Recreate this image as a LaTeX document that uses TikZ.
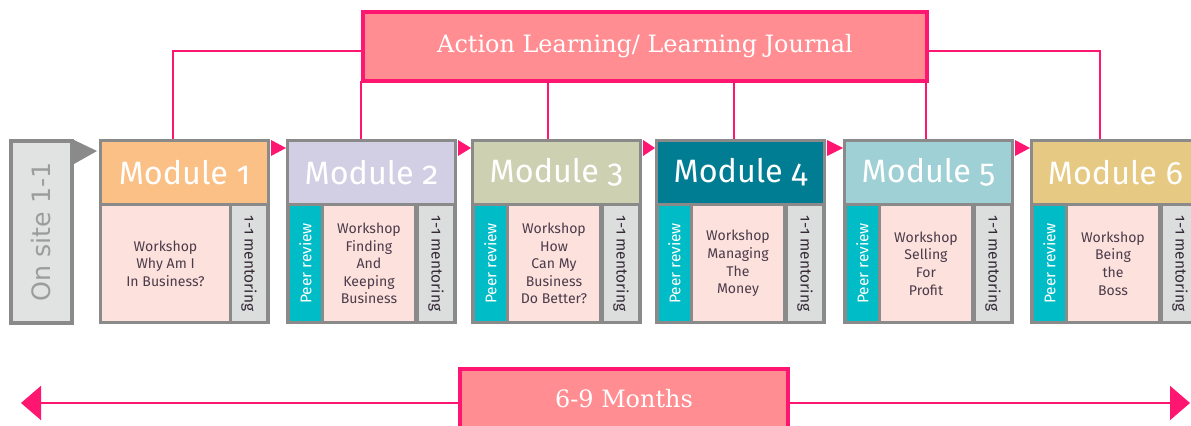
\documentclass[tikz,border=0pt]{standalone}
\usepackage{fontspec}
\usepackage{graphicx}
\setmainfont{Fira Sans}[Numbers=OldStyle]
\newfontfamily\slabfont{DejaVu Serif}
\newfontfamily\plainsans{DejaVu Sans}
\usetikzlibrary{positioning, backgrounds, calc, arrows.meta}

\definecolor{linkpink}{HTML}{FF1670}
\definecolor{boxpink}{HTML}{FF8D92}
\definecolor{framegray}{HTML}{8A8A8A}
\definecolor{shoppink}{HTML}{FDE1DC}
\definecolor{peerteal}{HTML}{00BCC7}
\definecolor{mentorgray}{HTML}{DCDEDE}
\definecolor{onsitegray}{HTML}{E1E2E2}
\definecolor{onsitetext}{HTML}{9C9C9C}
\definecolor{shoptext}{HTML}{4B3B4B}
\definecolor{modA}{HTML}{FBC085}
\definecolor{modB}{HTML}{D2CFE4}
\definecolor{modC}{HTML}{CDD1B1}
\definecolor{modD}{HTML}{007D93}
\definecolor{modE}{HTML}{9FD0D5}
\definecolor{modF}{HTML}{E6CA83}

% one pixel of the layout grid
\newcommand{\unitpx}{0.025cm}

\tikzset{
  flatcell/.style={inner sep=0pt, outer sep=0pt},
  modframe/.style={flatcell, fill=framegray, minimum width=171*\unitpx, minimum height=185*\unitpx, anchor=north west},
  modhead/.style={flatcell, minimum width=165*\unitpx, minimum height=61*\unitpx, anchor=north west, text=white, font=\fontsize{23}{27}\selectfont},
  peerbox/.style={flatcell, fill=peerteal, minimum width=31*\unitpx, minimum height=115*\unitpx, text=white, font=\fontsize{11}{13}\selectfont},
  shopbox/.style={flatcell, fill=shoppink, minimum height=115*\unitpx, align=center, text=shoptext, font=\fontsize{10}{12.5}\selectfont},
  mentorbox/.style={flatcell, fill=mentorgray, minimum width=34*\unitpx, minimum height=115*\unitpx, text=shoptext!70!black, font=\fontsize{11}{13}\selectfont},
  pinkbox/.style={flatcell, draw=linkpink, fill=boxpink, line width=4*\unitpx, text=white, font=\slabfont\fontsize{17}{20}\selectfont},
  linkline/.style={draw=linkpink, line width=2*\unitpx},
}

\begin{document}
\begin{tikzpicture}[x=\unitpx, y=-\unitpx]
  \useasboundingbox (0,0) rectangle (1191,426);
  \clip (0,0) rectangle (1191,426);

  \node[pinkbox, minimum width=564*\unitpx, minimum height=69*\unitpx] (journal) at (645,46.5) {Action Learning/ Learning Journal};

  % on site block
  \node[flatcell, draw=framegray, fill=onsitegray, line width=4*\unitpx, minimum width=61*\unitpx, minimum height=182*\unitpx,
        text=onsitetext, font=\plainsans\fontsize{18}{21}\selectfont] (onsite) at (41.5,232) {\rotatebox{90}{On site 1-1}};

  % modules: frame, header and mentoring strip
  \foreach \i/\x/\col in {1/99/modA, 2/286/modB, 3/471/modC, 4/655/modD, 5/843/modE, 6/1030/modF} {
    \node[modframe] (mod\i) at (\x,139) {};
    \node[modhead, fill=\col] (head\i) at (\x+3,142) {Module \i};
    \node[mentorbox] (ment\i) at (\x+150,263.5) {\rotatebox{-90}{1-1 mentoring}};
  }
  \foreach \i in {2,...,6}
    \node[peerbox] (peer\i) at ($(mod\i.north west)+(19.5,124.5)$) {\rotatebox{90}{Peer review}};

  % workshops
  \node[shopbox, minimum width=127*\unitpx] (shop1) at ($(mod1.north west)+(66.5,124.5)$) {Workshop\\Why Am I\\In Business?};
  \node[shopbox, minimum width=90*\unitpx] (shop2) at ($(mod2.north west)+(83,124.5)$) {Workshop\\Finding\\And\\Keeping\\Business};
  \node[shopbox, minimum width=90*\unitpx] (shop3) at ($(mod3.north west)+(83,124.5)$) {Workshop\\How\\Can My\\Business\\Do Better?};
  \node[shopbox, minimum width=90*\unitpx] (shop4) at ($(mod4.north west)+(83,124.5)$) {Workshop\\Managing\\The\\Money};
  \node[shopbox, minimum width=90*\unitpx] (shop5) at ($(mod5.north west)+(83,124.5)$) {Workshop\\Selling\\For\\Profit};
  \node[shopbox, minimum width=90*\unitpx] (shop6) at ($(mod6.north west)+(83,124.5)$) {Workshop\\Being\\the\\Boss};

  % small pointers from one module to the next
  \fill[framegray] ($(onsite.north east)+(2,-1)$) -- ++(0,24) -- ($(mod1.north west)+(-2,12)$) -- cycle;
  \foreach \i/\j in {1/2, 2/3, 3/4, 4/5, 5/6}
    \fill[linkpink] ($(mod\i.north east)+(1,1)$) -- ++(0,16) -- ($(mod\j.north west)+(0,9)$) -- cycle;

  \node[pinkbox, minimum width=328*\unitpx, minimum height=60*\unitpx] (months) at (624,399) {6-9 Months};
  \coordinate (spanL) at (21,403);
  \coordinate (spanR) at (1190,403);

  \begin{scope}[on background layer]
    % journal feeds every module
    \draw[linkline] ([xshift=-11.5*\unitpx]mod1.north) |- ([yshift=-4.5*\unitpx]journal.west);
    \draw[linkline] ([xshift=-15.5*\unitpx]mod6.north) |- ([yshift=-4.5*\unitpx]journal.east);
    \foreach \i/\dx in {2/-10.5, 3/-8.5, 4/-6.5, 5/-2.5} {
      \coordinate (drop\i) at ([xshift=\dx*\unitpx]mod\i.north);
      \draw[linkline] (drop\i) -- (drop\i |- journal.south);
    }
    % time span
    \draw[linkline, -{Triangle[length=0.5cm, width=0.85cm]}] (months.west |- spanL) -- (spanL);
    \draw[linkline, -{Triangle[length=0.5cm, width=0.85cm]}] (months.east |- spanR) -- (spanR);
  \end{scope}
\end{tikzpicture}
\end{document}
